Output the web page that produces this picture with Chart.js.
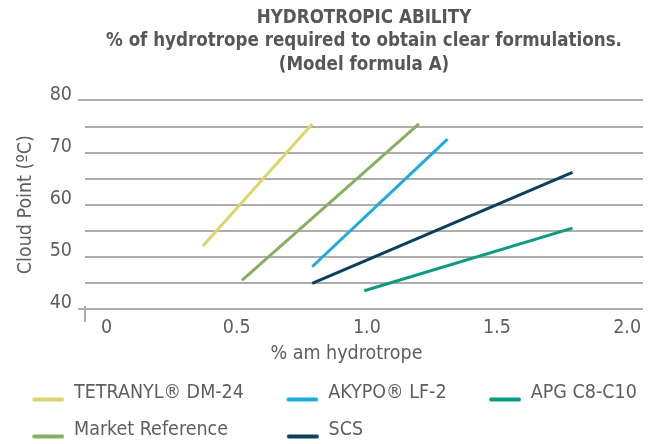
<!DOCTYPE html>
<html>
<head>
<meta charset="utf-8">
<title>Hydrotropic ability</title>
<script src="https://cdn.jsdelivr.net/npm/chart.js@4.4.1/dist/chart.umd.min.js"></script>
<style>
  html, body { margin: 0; padding: 0; background: #fff; }
  #chart { display: block; }
</style>
</head>
<body>
<canvas id="chart" width="654" height="444"></canvas>
<script>
// ---------------- DATA ----------------
const seriesNames = ['TETRANYL® DM-24', 'AKYPO® LF-2', 'APG C8-C10', 'Market Reference', 'SCS'];

const tetranylX = [0.37, 0.79];
const tetranylY = [52.1, 75.5];
const akypoX = [0.79, 1.31];
const akypoY = [48.1, 72.6];
const apgX = [0.99, 1.79];
const apgY = [43.5, 55.5];
const marketX = [0.52, 1.2];
const marketY = [45.5, 75.5];
const scsX = [0.79, 1.79];
const scsY = [44.9, 66.2];

const xTickValues = [0, 0.5, 1, 1.5, 2];
const xTickLabels = ['0', '0.5', '1.0', '1.5', '2.0'];
const yGridValues = [40, 45, 50, 55, 60, 65, 70, 75, 80];
const yTickValues = [40, 50, 60, 70, 80];
const yTickLabels = ['40', '50', '60', '70', '80'];

// ---------------- STYLE ----------------
const seriesColors = ['#dcd46c', '#1eabdc', '#0a9b80', '#86b061', '#0b3f5c'];
const GRID = '#adadad';
const LABEL = '#5e5e5e';
const FONT = "'Liberation Sans Narrow', 'Arial Narrow', 'DejaVu Sans Condensed', sans-serif";
const FS = 19.5;

Chart.defaults.font.family = FONT;
Chart.defaults.color = LABEL;

// legend marker: short thick line sitting near the text baseline
function makeMarker(color) {
  const c = document.createElement('canvas');
  c.width = 57;
  c.height = 22;
  const g = c.getContext('2d');
  g.strokeStyle = color;
  g.lineWidth = 4;
  g.lineCap = 'round';
  g.beginPath();
  g.moveTo(27, 18);
  g.lineTo(55, 18);
  g.stroke();
  return c;
}
const legendPad = ['', '', '', '\u2002\u2004\u200a', ''];

// little vertical stub under the plot, left edge
const axisStub = {
  id: 'axisStub',
  afterDraw(chart) {
    const { ctx, chartArea } = chart;
    ctx.save();
    ctx.strokeStyle = GRID;
    ctx.lineWidth = 2;
    ctx.beginPath();
    ctx.moveTo(chartArea.left, chartArea.bottom - 3);
    ctx.lineTo(chartArea.left, chartArea.bottom + 13);
    ctx.stroke();
    ctx.restore();
  }
};

const toPoints = (xs, ys) => xs.map((x, i) => ({ x: x, y: ys[i] }));
const seriesPoints = [
  toPoints(tetranylX, tetranylY),
  toPoints(akypoX, akypoY),
  toPoints(apgX, apgY),
  toPoints(marketX, marketY),
  toPoints(scsX, scsY)
];

new Chart(document.getElementById('chart'), {
  type: 'line',
  data: {
    datasets: seriesNames.map((name, i) => ({
      label: name,
      data: seriesPoints[i],
      borderColor: seriesColors[i],
      backgroundColor: seriesColors[i],
      borderWidth: 3,
      pointRadius: 0,
      tension: 0,
      fill: false
    }))
  },
  options: {
    responsive: false,
    animation: false,
    layout: { padding: { left: -10.25, right: -10, top: 0, bottom: -5.25 } },
    plugins: {
      tooltip: { enabled: false },
      title: {
        display: true,
        fullSize: false,
        text: [
          'HYDROTROPIC ABILITY',
          '% of hydrotrope required to obtain clear formulations.',
          '(Model formula A)'
        ],
        color: '#575757',
        font: { size: 18.6, weight: 'bold', lineHeight: 1.263 },
        padding: { top: 6, bottom: 24 }
      },
      legend: {
        position: 'bottom',
        align: 'start',
        labels: {
          usePointStyle: true,
          pointStyleWidth: 57,
          padding: 17.5,
          font: { size: FS },
          color: LABEL,
          generateLabels: (chart) => chart.data.datasets.map((ds, i) => ({
            text: ds.label + legendPad[i],
            pointStyle: makeMarker(ds.borderColor),
            fillStyle: ds.borderColor,
            strokeStyle: ds.borderColor,
            lineWidth: 0,
            hidden: false,
            datasetIndex: i,
            fontColor: LABEL
          }))
        }
      }
    },
    scales: {
      x: {
        type: 'linear',
        min: -0.083,
        max: 2.061,
        afterBuildTicks: (s) => { s.ticks = xTickValues.map((v) => ({ value: v })); },
        afterFit: (s) => { s.height = 56.3; },
        grid: { display: false, drawTicks: false, tickLength: 0 },
        border: { display: false },
        ticks: {
          padding: 7.6,
          autoSkip: false,
          maxRotation: 0,
          font: { size: FS },
          color: LABEL,
          callback: (v) => xTickLabels[xTickValues.indexOf(v)]
        },
        title: {
          display: true,
          text: '% am hydrotrope\u2003\u2003',
          font: { size: FS },
          color: LABEL,
          padding: { top: 0, bottom: 0 }
        }
      },
      y: {
        type: 'linear',
        min: 40,
        max: 80,
        afterBuildTicks: (s) => { s.ticks = yGridValues.map((v) => ({ value: v })); },
        afterFit: (s) => { s.width = 95.25; },
        grid: {
          color: GRID,
          lineWidth: 2,
          tickLength: 7,
          tickColor: (c) => (c.tick && (c.tick.value === 40 || c.tick.value === 80)) ? GRID : 'rgba(0,0,0,0)'
        },
        border: { display: false },
        ticks: {
          padding: 6,
          autoSkip: false,
          labelOffset: -6,
          font: { size: FS },
          color: LABEL,
          callback: (v) => {
            const k = yTickValues.indexOf(v);
            return k >= 0 ? yTickLabels[k] : '';
          }
        },
        title: {
          display: true,
          text: 'Cloud Point (ºC)',
          font: { size: FS },
          color: LABEL,
          padding: { top: 24.3, bottom: 0 }
        }
      },
      yRight: {
        type: 'linear',
        position: 'right',
        afterFit: (s) => { s.width = 21; },
        grid: { display: false },
        border: { display: false },
        ticks: { display: false }
      }
    }
  },
  plugins: [axisStub]
});
</script>
</body>
</html>
